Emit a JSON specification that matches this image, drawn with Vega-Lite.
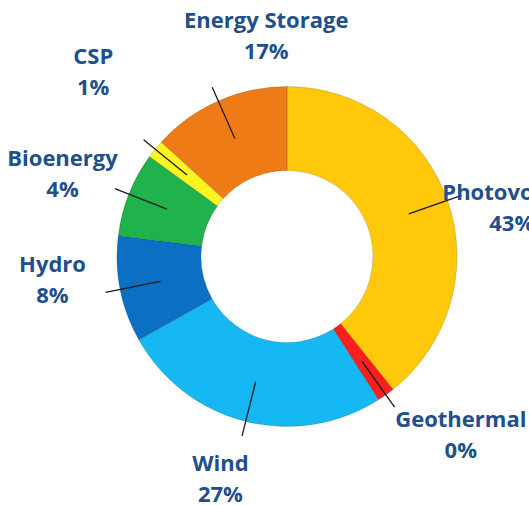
{
  "$schema": "https://vega.github.io/schema/vega-lite/v6.json",
  "width": 484,
  "height": 497,
  "autosize": {"type": "none"},
  "padding": {"left": 45, "top": 8, "right": 0, "bottom": 0},
  "background": "white",
  "config": {"view": {"stroke": null}},
  "data": {
    "values": [
      {"idx": 1, "name": "Photovoltaic", "share": 39.3, "label": "Photovoltaic\n43%"},
      {"idx": 2, "name": "Geothermal", "share": 1.67, "label": "Geothermal\n0%"},
      {"idx": 3, "name": "Wind", "share": 25.9, "label": "Wind\n27%"},
      {"idx": 4, "name": "Hydro", "share": 10.1, "label": "Hydro\n8%"},
      {"idx": 5, "name": "Bioenergy", "share": 8.06, "label": "Bioenergy\n4%"},
      {"idx": 6, "name": "CSP", "share": 1.75, "label": "CSP\n1%"},
      {"idx": 7, "name": "Energy Storage", "share": 13.25, "label": "Energy Storage\n17%"}
    ]
  },
  "encoding": {
    "theta": {"field": "share", "type": "quantitative", "stack": true},
    "order": {"field": "idx", "type": "quantitative", "sort": "ascending"},
    "detail": {"field": "name", "type": "nominal"}
  },
  "layer": [
    {
      "mark": {"type": "arc", "radius": 170, "radius2": 86, "stroke": "rgba(0,0,0,0.25)", "strokeWidth": 0.6},
      "encoding": {
        "color": {
          "field": "name",
          "type": "nominal",
          "scale": {
            "domain": ["Photovoltaic", "Geothermal", "Wind", "Hydro", "Bioenergy", "CSP", "Energy Storage"],
            "range": ["#FFC808", "#FF1E1E", "#15B8F2", "#0B6FC4", "#20B24B", "#FFF51E", "#EF7B17"]
          },
          "legend": null
        }
      }
    },
    {
      "mark": {"type": "arc", "radius": 185, "radius2": 129, "padAngle": 3, "filled": false, "stroke": "#1a1a1a", "strokeWidth": 1.3}
    },
    {
      "mark": {
        "type": "text",
        "radius": 237,
        "font": "Open Sans",
        "fontWeight": "bold",
        "fontSize": 22,
        "lineBreak": "\n",
        "lineHeight": 31,
        "align": "center",
        "baseline": "middle",
        "fill": "#204F8C",
        "dx": {"expr": "datum.name==='Photovoltaic'?1:datum.name==='Geothermal'?36:datum.name==='Wind'?-9:datum.name==='Hydro'?-2:datum.name==='Bioenergy'?-4:datum.name==='CSP'?-10:75"},
        "dy": {"expr": "datum.name==='Photovoltaic'?15:datum.name==='Geothermal'?-29:datum.name==='Wind'?-22:datum.name==='Hydro'?-37:datum.name==='Bioenergy'?-11:datum.name==='CSP'?-50:-19"}
      },
      "encoding": {"text": {"field": "label", "type": "nominal"}}
    }
  ]
}
